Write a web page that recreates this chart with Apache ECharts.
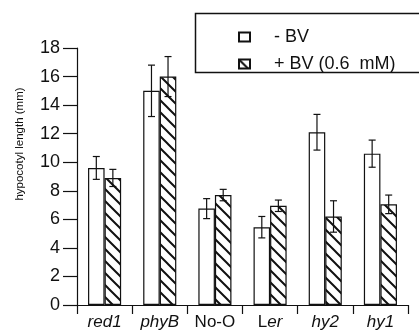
<!DOCTYPE html>
<html>
<head>
<meta charset="utf-8">
<script src="https://cdn.jsdelivr.net/npm/echarts@6/dist/echarts.min.js"></script>
<style>
  html, body { margin: 0; padding: 0; background: #fff; }
  #chart { width: 419px; height: 331px; }
</style>
</head>
<body>
<div id="chart"></div>
<script>
// genotypes
const categories = ['red1', 'phyB', 'No-O', 'Ler', 'hy2', 'hy1']
// - BV (control)
const minusBV = [9.6, 15.0, 6.75, 5.45, 12.1, 10.6]
const minusBVErr = [0.8, 1.8, 0.7, 0.75, 1.25, 0.95]
// + BV (0.6 mM)
const plusBV = [8.9, 16.0, 7.7, 6.95, 6.2, 7.05]
const plusBVErr = [0.6, 1.4, 0.4, 0.4, 1.1, 0.65]
const yTicks = [0, 2, 4, 6, 8, 10, 12, 14, 16, 18]

const font = 'Liberation Sans'

// diagonal hatch "\\\\" as a canvas pattern
const makeHatch = () => {
  const s = 12
  const c = document.createElement('canvas')
  c.width = s
  c.height = s
  const ctx = c.getContext('2d')
  ctx.fillStyle = '#fff'
  ctx.fillRect(0, 0, s, s)
  ctx.strokeStyle = '#111'
  ctx.lineWidth = 2
  ctx.beginPath()
  ctx.moveTo(-2, -2); ctx.lineTo(s + 2, s + 2)
  ctx.moveTo(-2 - s, -2); ctx.lineTo(2, s + 2)
  ctx.moveTo(s - 2, -2); ctx.lineTo(2 * s + 2, s + 2)
  ctx.stroke()
  return c
}
const hatch = { image: makeHatch(), repeat: 'repeat' }

const barWidthFrac = 0.3

// error bars drawn through the category scale, shifted onto each bar
const errorSeries = (name, values, errs, side) => ({
  name: name,
  type: 'custom',
  z: 5,
  silent: true,
  data: values.map((v, i) => [i, v, errs[i]]),
  renderItem: (params, api) => {
    const i = api.value(0)
    const v = api.value(1)
    const e = api.value(2)
    const band = api.size([1, 0])[0]
    const off = side * band * barWidthFrac / 2
    const top = api.coord([i, v + e])
    const bot = api.coord([i, v - e])
    const x = top[0] + off
    const cap = 3.5
    const style = { stroke: '#111', lineWidth: 1.2 }
    return {
      type: 'group',
      children: [
        { type: 'line', shape: { x1: x, y1: top[1], x2: x, y2: bot[1] }, style },
        { type: 'line', shape: { x1: x - cap, y1: top[1], x2: x + cap, y2: top[1] }, style },
        { type: 'line', shape: { x1: x - cap, y1: bot[1], x2: x + cap, y2: bot[1] }, style }
      ]
    }
  }
})

const chart = echarts.init(document.getElementById('chart'))

chart.setOption({
  animation: false,
  backgroundColor: '#fff',
  textStyle: { fontFamily: font, color: '#111' },
  grid: { left: 77, right: 11, top: 48, bottom: 26 },
  graphic: [
    {
      type: 'rect',
      left: 193,
      top: 11,
      shape: { width: 240, height: 59 },
      style: { fill: 'none', stroke: '#111', lineWidth: 1.5 }
    },
    {
      type: 'text',
      x: 20,
      y: 144,
      rotation: Math.PI / 2,
      style: {
        text: 'hypocotyl length (mm)',
        fontSize: 11.5,
        fontFamily: font,
        fill: '#111',
        align: 'center',
        verticalAlign: 'middle'
      }
    }
  ],
  legend: {
    orient: 'vertical',
    left: 233,
    top: 23,
    icon: 'rect',
    itemWidth: 11,
    itemHeight: 9,
    itemGap: 9,
    data: ['- BV', '+ BV (0.6  mM)'],
    textStyle: { fontFamily: font, fontSize: 18, color: '#111', padding: [0, 0, 0, 19] },
    selectedMode: false
  },
  xAxis: {
    type: 'category',
    data: categories,
    axisLine: { lineStyle: { color: '#111', width: 1.2 } },
    axisTick: { show: true, length: 9, lineStyle: { color: '#111', width: 1.2 } },
    axisLabel: {
      interval: 0,
      margin: 9,
      fontSize: 17,
      color: '#111',
      formatter: (v) => {
        if (v === 'No-O') return '{n|' + v + '}'
        if (v === 'Ler') return '{n|L}{i|er}'
        return '{i|' + v + '}'
      },
      rich: {
        n: { fontSize: 17, fontFamily: font, color: '#111' },
        i: { fontSize: 17, fontFamily: font, fontStyle: 'italic', color: '#111' }
      }
    }
  },
  yAxis: {
    type: 'value',
    min: yTicks[0],
    max: yTicks[yTicks.length - 1],
    interval: yTicks[1] - yTicks[0],
    splitLine: { show: false },
    axisLine: { show: true, lineStyle: { color: '#111', width: 1.2 } },
    axisTick: { show: true, length: 14, lineStyle: { color: '#111', width: 1.2 } },
    axisLabel: { fontSize: 18, color: '#111', margin: 17 }
  },
  series: [
    {
      name: '- BV',
      type: 'bar',
      barWidth: barWidthFrac * 100 + '%',
      barGap: '0%',
      data: minusBV,
      itemStyle: { color: '#fff', borderColor: '#111', borderWidth: 1.2 }
    },
    {
      name: '+ BV (0.6  mM)',
      type: 'bar',
      barWidth: barWidthFrac * 100 + '%',
      barGap: '0%',
      data: plusBV,
      itemStyle: { color: hatch, borderColor: '#111', borderWidth: 1.2 }
    },
    errorSeries('err-', minusBV, minusBVErr, -1),
    errorSeries('err+', plusBV, plusBVErr, 1)
  ]
})
</script>
</body>
</html>
